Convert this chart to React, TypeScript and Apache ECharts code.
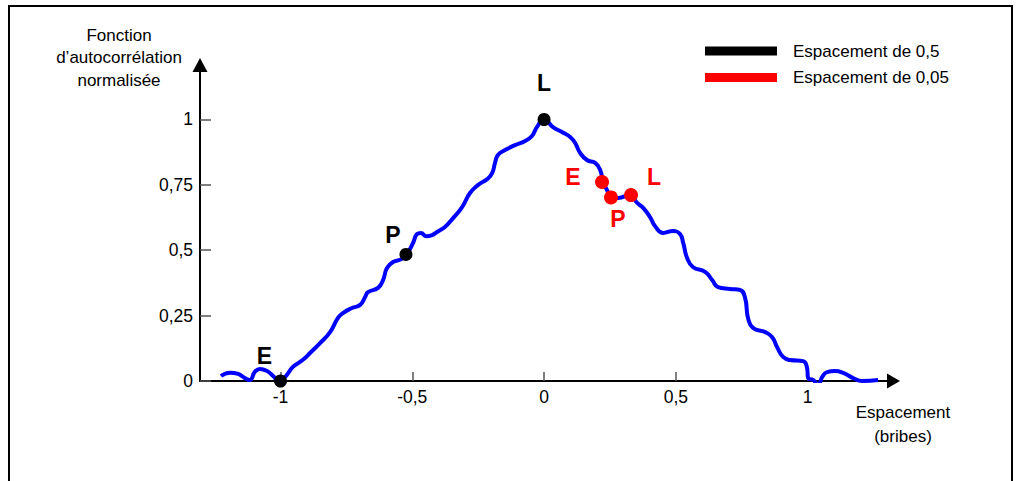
import React, { useEffect, useRef } from "react";
import * as echarts from "echarts";

// ---- data ----
const xTicks = [-1, -0.5, 0, 0.5, 1];
const yTicks = [0, 0.25, 0.5, 0.75, 1];

const curveX = [
  -1.226, -1.192, -1.161, -1.135, -1.116, -1.097, -1.078, -1.051, -1.028, -1.006,
  -0.983, -0.953, -0.926, -0.907, -0.888, -0.85, -0.812, -0.782, -0.763, -0.729,
  -0.698, -0.679, -0.668, -0.63, -0.611, -0.596, -0.573, -0.539, -0.52, -0.497,
  -0.482, -0.467, -0.448, -0.425, -0.406, -0.376, -0.345, -0.311, -0.281, -0.25,
  -0.216, -0.197, -0.186, -0.175, -0.148, -0.11, -0.072, -0.046, -0.027, 0,
  0.034, 0.068, 0.099, 0.118, 0.137, 0.163, 0.194, 0.213, 0.224, 0.239,
  0.254, 0.281, 0.326, 0.353, 0.376, 0.402, 0.421, 0.452, 0.49, 0.516,
  0.528, 0.543, 0.565, 0.611, 0.638, 0.66, 0.706, 0.744, 0.763, 0.774,
  0.793, 0.839, 0.865, 0.884, 0.907, 0.934, 0.983, 0.998, 1.002, 1.021,
  1.04, 1.055, 1.074, 1.104, 1.135, 1.173, 1.207, 1.268,
];
const curveY = [
  0.019, 0.032, 0.027, 0.011, 0.004, 0.036, 0.046, 0.038, 0.019, 0.0,
  0.015, 0.054, 0.073, 0.088, 0.107, 0.145, 0.187, 0.241, 0.26, 0.279,
  0.291, 0.321, 0.34, 0.356, 0.386, 0.432, 0.455, 0.467, 0.486, 0.528,
  0.562, 0.566, 0.554, 0.558, 0.57, 0.589, 0.623, 0.665, 0.719, 0.75,
  0.772, 0.795, 0.834, 0.864, 0.883, 0.902, 0.918, 0.937, 0.971, 1.0,
  0.971, 0.952, 0.933, 0.91, 0.872, 0.845, 0.834, 0.807, 0.761, 0.73,
  0.704, 0.7, 0.711, 0.681, 0.662, 0.627, 0.593, 0.566, 0.574, 0.562,
  0.528, 0.47, 0.436, 0.417, 0.386, 0.359, 0.352, 0.348, 0.317, 0.241,
  0.203, 0.187, 0.168, 0.13, 0.092, 0.08, 0.076, 0.05, 0.011, 0.004,
  -0.015, 0.015, 0.034, 0.038, 0.031, 0.011, 0.0, 0.004,
];

const coarseName = "Espacement de 0,5";
const coarseX = [-1, -0.524, 0];
const coarseY = [0, 0.484, 1];
const coarseLabels = ["E", "P", "L"];

const fineName = "Espacement de 0,05";
const fineX = [0.22, 0.254, 0.33];
const fineY = [0.761, 0.702, 0.711];
const fineLabels = ["E", "P", "L"];

const xAxisTitle = "Espacement\n(bribes)";
const yAxisTitle = "Fonction\nd\u2019autocorrélation\nnormalisée";

// ---- styles ----
const coarseLabelOffsets = [[-16, -25], [-13, -19], [0, -36]];
const fineLabelOffsets = [[-29, -5], [7, 22], [23, -18]];
const FONT = "Liberation Sans, Arial, sans-serif";

const fmt = (v: number) => String(v).replace(".", ",");

export default function App() {
  const ref = useRef<HTMLDivElement>(null);

  useEffect(() => {
    if (!ref.current) return;
    const chart = echarts.init(ref.current, undefined, { renderer: "svg" });

    const mkPoints = (xs: number[], ys: number[], labels: string[], offs: number[][], color: string) =>
      xs.map((x, i) => ({
        value: [x, ys[i]],
        label: {
          show: true,
          formatter: labels[i],
          position: "inside",
          offset: offs[i],
          color,
          fontFamily: FONT,
          fontWeight: "bold",
          fontSize: 23,
        },
      }));

    chart.setOption({
      animation: false,
      backgroundColor: "#ffffff",
      textStyle: { fontFamily: FONT },
      grid: { left: 200, right: 128.5, top: 65, bottom: 100 },
      legend: {
        data: [coarseName, fineName],
        orient: "vertical",
        left: 700,
        top: 37,
        icon: "rect",
        itemWidth: 72,
        itemHeight: 9,
        itemGap: 8.5,
        textStyle: {
          fontFamily: FONT,
          fontSize: 17,
          lineHeight: 18,
          color: "#000",
          padding: [0, 0, 0, 11],
        },
      },
      xAxis: {
        type: "value",
        min: -1.3055,
        max: 1.326,
        splitLine: { show: false },
        axisLine: {
          show: true,
          onZero: true,
          symbol: ["none", "triangle"],
          symbolSize: [15, 13],
          lineStyle: { color: "#000", width: 2 },
        },
        axisTick: {
          show: true,
          inside: true,
          length: 9,
          customValues: xTicks,
          lineStyle: { color: "#555", width: 1.5 },
        },
        axisLabel: {
          customValues: xTicks,
          formatter: fmt,
          margin: 7,
          color: "#000",
          fontFamily: FONT,
          fontSize: 17.5,
        },
      },
      yAxis: {
        type: "value",
        min: 0,
        max: 1.2084,
        splitLine: { show: false },
        axisLine: {
          show: true,
          onZero: false,
          symbol: ["none", "triangle"],
          symbolSize: [15, 14],
          lineStyle: { color: "#000", width: 2 },
        },
        axisTick: {
          show: true,
          inside: true,
          length: 11,
          customValues: yTicks,
          lineStyle: { color: "#555", width: 1.5 },
        },
        axisLabel: {
          customValues: yTicks,
          formatter: fmt,
          margin: 7,
          color: "#000",
          fontFamily: FONT,
          fontSize: 17.5,
        },
      },
      graphic: [
        {
          type: "polyline",
          shape: { points: [[9, 481], [9, 6], [1012, 6], [1012, 481]] },
          style: { stroke: "#000", lineWidth: 2, fill: "none" },
          silent: true,
        },
        {
          type: "text",
          x: 119,
          y: 24,
          style: {
            text: yAxisTitle,
            fontFamily: FONT,
            fontSize: 17,
            lineHeight: 22.5,
            align: "center",
            verticalAlign: "top",
            fill: "#000",
          },
        },
        {
          type: "text",
          x: 903,
          y: 400,
          style: {
            text: xAxisTitle,
            fontFamily: FONT,
            fontSize: 17,
            lineHeight: 24,
            align: "center",
            verticalAlign: "top",
            fill: "#000",
          },
        },
      ],
      series: [
        {
          name: "curve",
          type: "line",
          data: curveX.map((x, i) => [x, curveY[i]]),
          showSymbol: false,
          smooth: 0.5,
          lineStyle: { color: "#0000ff", width: 4 },
          itemStyle: { color: "#0000ff" },
          z: 2,
        },
        {
          name: coarseName,
          type: "scatter",
          symbolSize: 13,
          itemStyle: { color: "#000", opacity: 1 },
          data: mkPoints(coarseX, coarseY, coarseLabels, coarseLabelOffsets, "#000"),
          z: 3,
        },
        {
          name: fineName,
          type: "scatter",
          symbolSize: 14,
          itemStyle: { color: "#ff0000", opacity: 1 },
          data: mkPoints(fineX, fineY, fineLabels, fineLabelOffsets, "#ff0000"),
          z: 3,
        },
      ],
    });

    return () => chart.dispose();
  }, []);

  return (
    <div
      ref={ref}
      style={{ position: "fixed", left: 0, top: 0, width: 1022, height: 481 }}
    />
  );
}
